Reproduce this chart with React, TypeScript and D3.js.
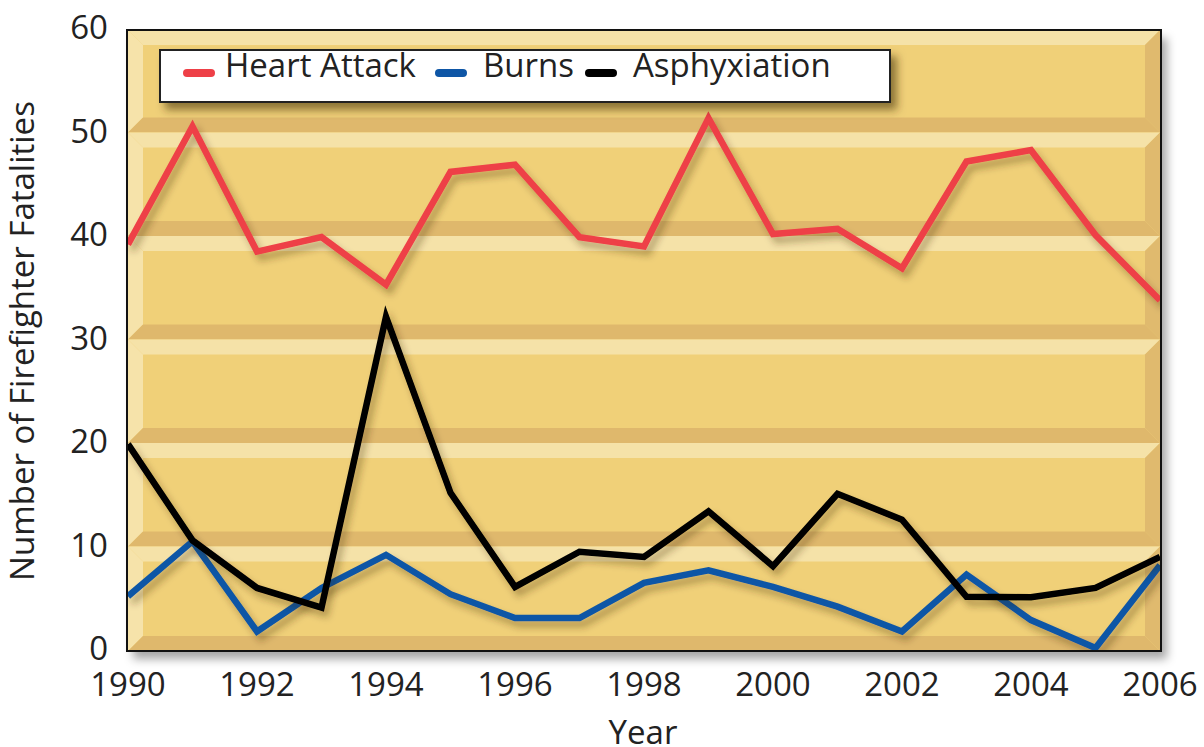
import React from "react";
import * as d3 from "d3";

const years = [1990, 1991, 1992, 1993, 1994, 1995, 1996, 1997, 1998, 1999, 2000, 2001, 2002, 2003, 2004, 2005, 2006];
const heartAttack = [39, 50.4, 38.3, 39.7, 35.1, 46, 46.7, 39.7, 38.8, 51.2, 40, 40.5, 36.7, 47, 48.1, 39.9, 33.6];
const burns = [5, 10.3, 1.6, 5.8, 9, 5.2, 2.9, 2.9, 6.3, 7.5, 5.9, 4, 1.6, 7.1, 2.7, 0, 8];
const asphyxiation = [19.7, 10.4, 5.8, 3.9, 32, 15, 5.9, 9.3, 8.8, 13.2, 7.9, 14.9, 12.4, 4.95, 4.9, 5.8, 8.8];
const yTicks = [0, 10, 20, 30, 40, 50, 60];
const xTicks = [1990, 1992, 1994, 1996, 1998, 2000, 2002, 2004, 2006];
const seriesNames = ["Heart Attack", "Burns", "Asphyxiation"];
const seriesColors = ["#EE4047", "#0E56A6", "#000000"];

const W = 1204;
const H = 747;
const FONT = "'Open Sans', sans-serif";

export default function App() {
  const x = d3.scaleLinear().domain([1990, 2006]).range([128, 1160]);
  const y = d3.scaleLinear().domain([0, 60]).range([648, 27]);
  const frame = { x0: 127, y0: 30, x1: 1161, y1: 651 };
  const line = d3
    .line<number>()
    .x((_, i) => x(years[i]))
    .y((d) => y(d));

  // tiles between gridlines
  const bounds = [frame.y0, ...[50, 40, 30, 20, 10].map((v) => y(v) + 2), frame.y1];
  const b = 15;
  const fx0 = frame.x0 + 1;
  const fx1 = frame.x1 - 1;
  const tiles = [];
  for (let i = 0; i < bounds.length - 1; i++) {
    const t0 = bounds[i];
    const t1 = bounds[i + 1];
    const pts = (arr: number[][]) => arr.map((p) => p.join(",")).join(" ");
    tiles.push(
      <g key={"tile" + i}>
        <rect x={fx0} y={t0} width={fx1 - fx0} height={t1 - t0} fill="#F0D078" />
        <polygon points={pts([[fx0, t0], [fx1, t0], [fx1 - b, t0 + b], [fx0 + b, t0 + b]])} fill="#F5E2A8" />
        <polygon points={pts([[fx0, t0], [fx0 + b, t0 + b], [fx0 + b, t1 - b], [fx0, t1]])} fill="#F6E3AA" />
        <polygon points={pts([[fx0, t1], [fx0 + b, t1 - b], [fx1 - b, t1 - b], [fx1, t1]])} fill="#DFB86C" />
        <polygon points={pts([[fx1, t0], [fx1, t1], [fx1 - b, t1 - b], [fx1 - b, t0 + b]])} fill="#E0BA6E" />
      </g>
    );
  }

  const series = [
    { name: "Burns", data: burns, color: seriesColors[1] },
    { name: "Asphyxiation", data: asphyxiation, color: seriesColors[2] },
    { name: "Heart Attack", data: heartAttack, color: seriesColors[0] },
  ];

  const legendItems = [
    { lx: 183, tx: 225 },
    { lx: 435, tx: 483 },
    { lx: 585, tx: 633 },
  ];

  return (
    <svg width={W} height={H} style={{ position: "absolute", left: 0, top: 0 }}>
      <defs>
        <filter id="frameShadow" x="-5%" y="-5%" width="115%" height="115%">
          <feDropShadow dx="6" dy="8" stdDeviation="5" floodColor="#000" floodOpacity="0.35" />
        </filter>
        <filter id="lineShadow" x="-5%" y="-10%" width="115%" height="130%">
          <feDropShadow dx="4" dy="6" stdDeviation="3.5" floodColor="#3a2a00" floodOpacity="0.35" />
        </filter>
        <filter id="legShadow" x="-5%" y="-30%" width="115%" height="170%">
          <feDropShadow dx="6" dy="7" stdDeviation="4" floodColor="#3a2a00" floodOpacity="0.55" />
        </filter>
        <clipPath id="plotClip">
          <rect x={fx0} y={frame.y0} width={fx1 - fx0} height={frame.y1 - frame.y0} />
        </clipPath>
      </defs>
      <rect width={W} height={H} fill="#ffffff" />
      <rect
        x={frame.x0}
        y={frame.y0}
        width={frame.x1 - frame.x0}
        height={frame.y1 - frame.y0}
        fill="#F0D078"
        filter="url(#frameShadow)"
      />
      {tiles}
      <g clipPath="url(#plotClip)">
        {series.map((s) => (
          <path
            key={s.name}
            d={line(s.data) || ""}
            fill="none"
            stroke={s.color}
            strokeWidth={6.5}
            strokeLinejoin="miter"
            filter="url(#lineShadow)"
          />
        ))}
      </g>
      <rect
        x={frame.x0}
        y={frame.y0}
        width={frame.x1 - frame.x0}
        height={frame.y1 - frame.y0}
        fill="none"
        stroke="#111"
        strokeWidth={2}
      />
      {/* legend */}
      <rect x={160} y={50} width={730} height={52} fill="#ffffff" stroke="#222" strokeWidth={2} filter="url(#legShadow)" />
      {seriesNames.map((n, i) => (
        <g key={n}>
          <line
            x1={legendItems[i].lx + 4}
            x2={legendItems[i].lx + 28}
            y1={73}
            y2={73}
            stroke={seriesColors[i]}
            strokeWidth={8}
            strokeLinecap="round"
          />
          <text x={legendItems[i].tx} y={77} fontFamily={FONT} fontSize={33} fill="#222">
            {n}
          </text>
        </g>
      ))}
      {/* y axis */}
      {yTicks.map((t) => (
        <text key={"y" + t} x={108} y={y(t) + 12} textAnchor="end" fontFamily={FONT} fontSize={33} fill="#222">
          {t}
        </text>
      ))}
      {xTicks.map((t) => (
        <text key={"x" + t} x={x(t)} y={696} textAnchor="middle" fontFamily={FONT} fontSize={33} fill="#222">
          {t}
        </text>
      ))}
      <text x={643} y={744} textAnchor="middle" fontFamily={FONT} fontSize={33} fill="#222">
        Year
      </text>
      <text
        transform={`translate(34, 341) rotate(-90)`}
        textAnchor="middle"
        fontFamily={FONT}
        fontSize={33}
        fill="#222"
      >
        Number of Firefighter Fatalities
      </text>
    </svg>
  );
}
